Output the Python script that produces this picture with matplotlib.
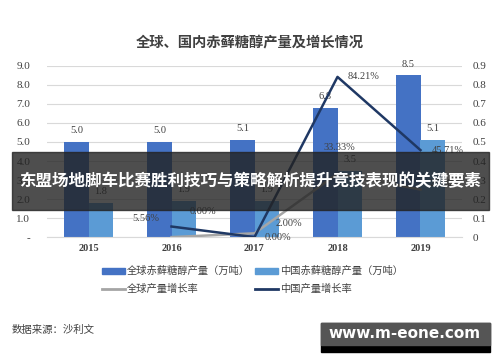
import numpy as np
import matplotlib.pyplot as plt
from matplotlib.patches import Rectangle
from matplotlib.lines import Line2D
from matplotlib.patches import Patch

plt.rcParams['font.family'] = ['Liberation Serif', 'Noto Sans CJK SC']

years = ['2015', '2016', '2017', '2018', '2019']
global_prod = [5.0, 5.0, 5.1, 6.8, 8.5]
china_prod = [1.8, 1.9, 1.9, 3.5, 5.1]
global_growth = [0.0, 0.02, 0.3333, 0.25]      # 2016-2019
china_growth = [0.0556, 0.0, 0.8421, 0.4571]   # 2016-2019
global_growth_labels = ['0.00%', '2.00%', '33.33%', '25.00%']
china_growth_labels = ['5.56%', '0.00%', '84.21%', '45.71%']

c_global = '#4472c4'
c_china = '#5b9bd5'
c_gline = '#a5a5a5'
c_cline = '#1f3864'
c_text = '#404040'

fig = plt.figure(figsize=(5, 3.62), dpi=100)
ax = fig.add_axes([0.094, 0.345, 0.83, 0.473])
ax2 = ax.twinx()

x = np.arange(len(years))
w = 0.29
ax.bar(x - w / 2, global_prod, w, color=c_global, zorder=2)
ax.bar(x + w / 2, china_prod, w, color=c_china, zorder=2)
for xi, v in zip(x, global_prod):
    ax.text(xi - w / 2, v + 0.35, f'{v:.1f}', ha='center', va='bottom', fontsize=7.5, color=c_text)
for xi, v in zip(x, china_prod):
    ax.text(xi + w / 2, v + 0.35, f'{v:.1f}', ha='center', va='bottom', fontsize=7.5, color=c_text)

ax.set_xlim(-0.5, 4.5)
ax.set_ylim(0, 9)
ax.set_yticks(np.arange(0, 10, 1))
ax.set_yticklabels(['-'] + [f'{v:.1f}' for v in range(1, 10)], fontsize=8, color=c_text)
ax.set_xticks(x)
ax.set_xticklabels(years, fontsize=7.5, fontweight='bold', color=c_text)
ax.grid(axis='y', color='#d9d9d9', lw=0.8, zorder=0)
ax.tick_params(axis='y', length=0, pad=12)
ax.tick_params(axis='x', length=0, pad=5)
for s in ax.spines.values():
    s.set_visible(False)
ax.spines['bottom'].set_visible(True)
ax.spines['bottom'].set_color('#d9d9d9')

xl = x[1:]
ax2.plot(xl, global_growth, color=c_gline, lw=1.8, zorder=3)
ax2.plot(xl, china_growth, color=c_cline, lw=1.8, zorder=3)
ax2.set_ylim(0, 0.9)
ax2.set_yticks(np.arange(0, 1.0, 0.1))
ax2.set_yticklabels(['0'] + [f'{v / 10:.1f}' for v in range(1, 10)], fontsize=8, color=c_text)
ax2.tick_params(length=0, pad=8)
for s in ax2.spines.values():
    s.set_visible(False)

# growth labels
g_off = [(0.38, 0.135), (0.41, 0.05), (0.02, 0.14), (0.3, 0.03)]
c_off = [(-0.31, 0.04), (0.28, -0.003), (0.31, 0.0), (0.33, 0.0)]
for xi, v, lab, (dx, dy) in zip(xl, global_growth, global_growth_labels, g_off):
    ax2.text(xi + dx, v + dy, lab, ha='center', va='center', fontsize=7.5, color=c_text)
for xi, v, lab, (dx, dy) in zip(xl, china_growth, china_growth_labels, c_off):
    ax2.text(xi + dx, v + dy, lab, ha='center', va='center', fontsize=7.5, color=c_text)

fig.text(0.5, 0.88, '全球、国内赤藓糖醇产量及增长情况', ha='center', va='center',
         fontsize=10.3, fontweight='bold', color=c_text)

handles = [Patch(color=c_global), Line2D([], [], color=c_gline, lw=2),
           Patch(color=c_china), Line2D([], [], color=c_cline, lw=2)]
labels = ['全球赤藓糖醇产量（万吨）', '全球产量增长率', '中国赤藓糖醇产量（万吨）', '中国产量增长率']
fig.legend(handles, labels, loc='center', bbox_to_anchor=(0.505, 0.226), ncol=2,
           frameon=False, fontsize=7.4, handlelength=2.2, handleheight=0.5,
           handletextpad=0.2, columnspacing=0.5, labelspacing=0.75, labelcolor=c_text)

fig.text(0.024, 0.088, '数据来源：沙利文', ha='left', va='center', fontsize=7.5, color=c_text)

# overlay banner
fig.patches.append(Rectangle((0.024, 0.42), 0.954, 0.16, transform=fig.transFigure,
                             color='#222222', alpha=0.8, zorder=5))
fig.text(0.5, 0.5, '东盟场地脚车比赛胜利技巧与策略解析提升竞技表现的关键要素', ha='center',
         va='center', fontsize=11.9, fontweight='bold', color='white',
         family=['Noto Sans CJK SC'], zorder=6)

# watermark box
fig.patches.append(Rectangle((0.642, 0.028), 0.338, 0.08, transform=fig.transFigure,
                             color='#000000', zorder=5))
fig.patches.append(Rectangle((0.642, 0.048), 0.338, 0.06, transform=fig.transFigure,
                             color='#555555', zorder=5))
fig.text(0.81, 0.08, 'www.m-eone.com', ha='center', va='center', fontsize=11,
         fontweight='bold', color='white', family=['DejaVu Sans'], zorder=6)

fig.savefig('out.png', dpi=100, facecolor='white')
